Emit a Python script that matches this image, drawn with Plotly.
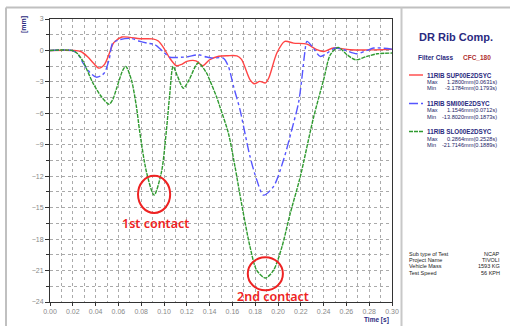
import plotly.graph_objects as go

# ---------------- data ----------------
t_sup = [0.000, 0.020, 0.027, 0.033, 0.038, 0.043, 0.048, 0.052, 0.056, 0.063, 0.070, 0.079, 0.090,
         0.095, 0.100, 0.105, 0.111, 0.116, 0.120, 0.128, 0.134, 0.140, 0.148, 0.156, 0.164, 0.168,
         0.1755, 0.1793, 0.184, 0.189, 0.192, 0.199, 0.206, 0.2136, 0.2254, 0.234, 0.240, 0.2486,
         0.263, 0.280, 0.300]
v_sup = [0.0, 0.0, -0.1, -0.6, -1.2, -1.69, -1.3, -0.3, 0.75, 1.28, 1.25, 1.12, 1.1,
         0.9, 0.2, -0.73, -1.46, -1.3, -1.05, -0.99, -1.46, -0.89, -0.55, -0.5, -0.52, -0.85,
         -2.8, -3.18, -2.95, -3.1, -2.6, -0.25, 0.86, 0.7, 0.61, 0.07, -0.1, 0.23,
         0.07, 0.05, 0.1]

t_smi = [0.000, 0.019, 0.024, 0.029, 0.035, 0.0406, 0.045, 0.048, 0.052, 0.055, 0.061, 0.0712, 0.079,
         0.085, 0.092, 0.099, 0.105, 0.115, 0.121, 0.130, 0.1374, 0.143, 0.152, 0.1565, 0.161, 0.1667,
         0.171, 0.1755, 0.1814, 0.1873, 0.196, 0.2048, 0.212, 0.218, 0.221, 0.2235, 0.2254, 0.230,
         0.237, 0.243, 0.2503, 0.2576, 0.269, 0.278, 0.284, 0.300]
v_smi = [0.0, 0.0, -0.3, -1.2, -2.1, -2.55, -2.4, -2.1, -0.8, 0.7, 1.02, 1.15, 0.86,
         0.7, 0.55, -0.09, -0.63, -0.65, -0.6, -0.41, -0.63, -0.73, -0.73, -1.53, -3.44, -5.67,
         -7.9, -10.14, -12.37, -13.8, -13.0, -10.46, -7.6, -5.0, -2.6, -0.2, 0.86, 0.38,
         -0.57, -0.25, 0.23, 0.07, -0.32, 0.0, 0.23, 0.13]

t_slo = [0.000, 0.019, 0.024, 0.029, 0.0377, 0.045, 0.0518, 0.055, 0.058, 0.064, 0.0665, 0.0714,
         0.0758, 0.0787, 0.0846, 0.0913, 0.0978, 0.102, 0.105, 0.108, 0.112, 0.117, 0.122, 0.130,
         0.1374, 0.140, 0.146, 0.149, 0.1565, 0.1623, 0.168, 0.1755, 0.1814, 0.1889, 0.196, 0.2034,
         0.2107, 0.2195, 0.231, 0.240, 0.2459, 0.2528, 0.2606, 0.268, 0.278, 0.287, 0.300]
v_slo = [0.0, 0.0, -0.3, -1.05, -3.12, -4.4, -5.13, -4.7, -3.76, -1.85, -1.53, -2.8,
         -5.36, -7.75, -11.58, -13.8, -11.58, -7.75, -4.24, -1.53, -2.5, -3.6, -2.8, -1.2,
         -2.17, -2.8, -4.4, -5.36, -7.9, -11.1, -14.6, -18.76, -20.99, -21.71, -20.99, -18.76,
         -15.56, -12.06, -6.47, -2.8, -0.41, 0.29, -0.41, -0.89, -0.57, -0.32, -0.25]

series_names = ["11RIB SUP00E2DSYC", "11RIB SMI00E2DSYC", "11RIB SLO00E2DSYC"]
max_labels = ["1.2800mm(0.0631s)", "1.1546mm(0.0712s)", "0.2864mm(0.2528s)"]
min_labels = ["-3.1784mm(0.1793s)", "-13.8020mm(0.1873s)", "-21.7146mm(0.1889s)"]
info_keys = ["Sub type of Test", "Project Name", "Vehicle Mass", "Test Speed"]
info_vals = ["NCAP", "TIVOLI", "1593 KG", "56 KPH"]
contact_labels = ["1st contact", "2nd contact"]

# ---------------- styling ----------------
W, H = 510, 329
ML, MR, MT, MB = 50, 118, 19, 27
PW, PH = W - ML - MR, H - MT - MB
NAVY = "#2a2a80"
FONT = "Liberation Sans"

colors = ["#ff4444", "#5555ff", "#2f9a2f"]
dashes = ["solid", "dashdot", "4px,1px"]


def px(x):
    return (x - ML) / PW


def py(y):
    return (H - MB - y) / PH


fig = go.Figure()
for t, v, c, d, n in zip([t_sup, t_smi, t_slo], [v_sup, v_smi, v_slo], colors, dashes, series_names):
    fig.add_trace(go.Scatter(x=t, y=v, mode="lines", name=n,
                             line=dict(color=c, width=1.4, dash=d, shape="spline", smoothing=0.8)))

grid = dict(showgrid=True, gridcolor="#aaaaaa", griddash="dot", gridwidth=1)
fig.update_xaxes(range=[0, 0.30], dtick=0.02, tickformat=".2f", ticks="outside", ticklen=3,
                 tickcolor="#333", showline=True, linecolor="#333", linewidth=1, mirror=True,
                 tickfont=dict(family=FONT, size=7, color="#888"), zeroline=False,
                 minor=dict(dtick=0.01, showgrid=True, gridcolor="#aaaaaa", griddash="dot"),
                 **grid)
fig.update_yaxes(range=[-24, 3], dtick=3, ticks="outside", ticklen=4, tickcolor="#333",
                 showline=True, linecolor="#333", linewidth=1, mirror=True,
                 tickfont=dict(family=FONT, size=7, color="#888"), zeroline=False,
                 minor=dict(dtick=1.5, showgrid=True, gridcolor="#aaaaaa", griddash="dot",
                            ticks="outside", ticklen=3, tickcolor="#333"),
                 **grid)

shapes = []
# outer frame and panel separator
shapes.append(dict(type="line", xref="paper", yref="paper", x0=px(6), x1=px(510), y0=py(7.5), y1=py(7.5),
                   line=dict(color="#c0c0c0", width=2)))
shapes.append(dict(type="line", xref="paper", yref="paper", x0=px(6), x1=px(6), y0=py(7.5), y1=py(326),
                   line=dict(color="#c0c0c0", width=2)))
shapes.append(dict(type="line", xref="paper", yref="paper", x0=px(401.5), x1=px(401.5), y0=py(7.5), y1=py(326),
                   line=dict(color="#c8c8c8", width=2)))

# contact circles around the green minima
i1 = v_slo.index(min(v_slo[:20]))
i2 = v_slo.index(min(v_slo))
for (ti, vi, rx, ry, dv) in [(t_slo[i1], v_slo[i1], 0.0141, 1.77, 0.07), (t_slo[i2], v_slo[i2], 0.0154, 1.58, 0.4)]:
    shapes.append(dict(type="circle", xref="x", yref="y", x0=ti - rx, x1=ti + rx,
                       y0=vi + dv - ry, y1=vi + dv + ry, line=dict(color="#ee2222", width=2)))

# legend line samples
leg_y = [75, 103.5, 131.5]
for c, d, ly in zip(colors, dashes, leg_y):
    shapes.append(dict(type="line", xref="paper", yref="paper", x0=px(409), x1=px(423), y0=py(ly), y1=py(ly),
                       line=dict(color=c, width=1.4, dash=d)))

ann = []


def txt(x, y, s, size=7, color=NAVY, anchor="left", bold=True, family=FONT, angle=0):
    ann.append(dict(x=px(x), y=py(y), xref="paper", yref="paper", text=(f"<b>{s}</b>" if bold else s),
                    showarrow=False, xanchor=anchor, yanchor="middle", textangle=angle,
                    font=dict(family=family, size=size, color=color)))


txt(456, 37, "DR Rib Comp.", size=11, anchor="center")
txt(416, 57.5, "Filter Class", size=6.5)
txt(461, 57.5, "CFC_180", size=6.5, color="#b03030")
for name, mx, mn, ly in zip(series_names, max_labels, min_labels, leg_y):
    txt(424.5, ly, name, size=6.3)
    txt(425, ly + 7, "Max", size=5.6, color="#222266", bold=False)
    txt(425, ly + 13.5, "Min", size=5.6, color="#222266", bold=False)
    txt(499, ly + 7, mx, size=5.6, color="#222266", anchor="right", bold=False)
    txt(499, ly + 13.5, mn, size=5.6, color="#222266", anchor="right", bold=False)

for k, val, yy in zip(info_keys, info_vals, [253.5, 259.5, 266, 272.5]):
    txt(406.5, yy, k, size=5.5, color="#222", bold=False)
    txt(502, yy, val, size=5.5, color="#222", anchor="right", bold=False)

txt(18, 25, "[mm]", size=7, angle=-90)
txt(391, 319.5, "Time [s]", size=6.5, anchor="right")

# contact labels in data coordinates below the circles
ann.append(dict(x=t_slo[i1] + 0.001, y=-16.5, xref="x", yref="y", text=contact_labels[0], showarrow=False,
                font=dict(family="Noto Sans", size=12.5, color="#ee2222", weight=600),
                xanchor="center", yanchor="middle"))
ann.append(dict(x=0.196, y=-23.45, xref="x", yref="y", text=contact_labels[1], showarrow=False,
                font=dict(family="Noto Sans", size=12.5, color="#ee2222", weight=600),
                xanchor="center", yanchor="middle"))

fig.update_layout(width=W, height=H, autosize=False, margin=dict(l=ML, r=MR, t=MT, b=MB),
                  plot_bgcolor="white", paper_bgcolor="white", showlegend=False,
                  shapes=shapes, annotations=ann)

fig.write_html("out.html", config={"displayModeBar": False},
               post_script="document.body.style.margin='0';document.body.style.overflow='hidden';")
